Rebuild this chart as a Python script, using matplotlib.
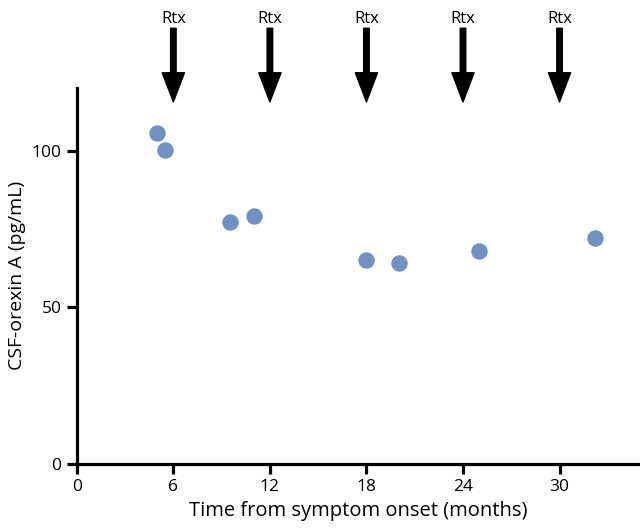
import matplotlib.pyplot as plt

plt.rcParams['font.family'] = ['Open Sans', 'DejaVu Sans']

months = [5.0, 5.5, 9.5, 11.0, 18.0, 20.0, 25.0, 32.2]
orexin = [105.5, 100.3, 77.3, 79.2, 65.2, 64.2, 68.0, 72.2]
rtx_months = [6, 12, 18, 24, 30]

fig = plt.figure(figsize=(6.4, 5.29), dpi=100)
ax = fig.add_axes([0.12, 0.123, 0.88, 0.711])

ax.scatter(months, orexin, s=140, color='#7092c2', zorder=3, linewidths=0)

for m in rtx_months:
    ax.annotate('', xy=(m, 115.5), xytext=(m, 139),
                arrowprops=dict(facecolor='black', edgecolor='black',
                                width=4.0, headwidth=16, headlength=21),
                annotation_clip=False)
    ax.text(m, 140.8, 'Rtx', ha='center', va='baseline', fontsize=12)

ax.set_xlim(0, 35)
ax.set_ylim(0, 120)
ax.set_xticks([0, 6, 12, 18, 24, 30])
ax.set_yticks([0, 50, 100])
ax.spines['top'].set_visible(False)
ax.spines['right'].set_visible(False)
for s in ['left', 'bottom']:
    ax.spines[s].set_linewidth(2.3)
ax.tick_params(width=2.3, length=7, pad=4, labelsize=12.5)
ax.set_xlabel('Time from symptom onset (months)', fontsize=14.5, labelpad=4)
ax.set_ylabel('CSF-orexin A (pg/mL)', fontsize=14)

fig.savefig('out.png', dpi=100)
